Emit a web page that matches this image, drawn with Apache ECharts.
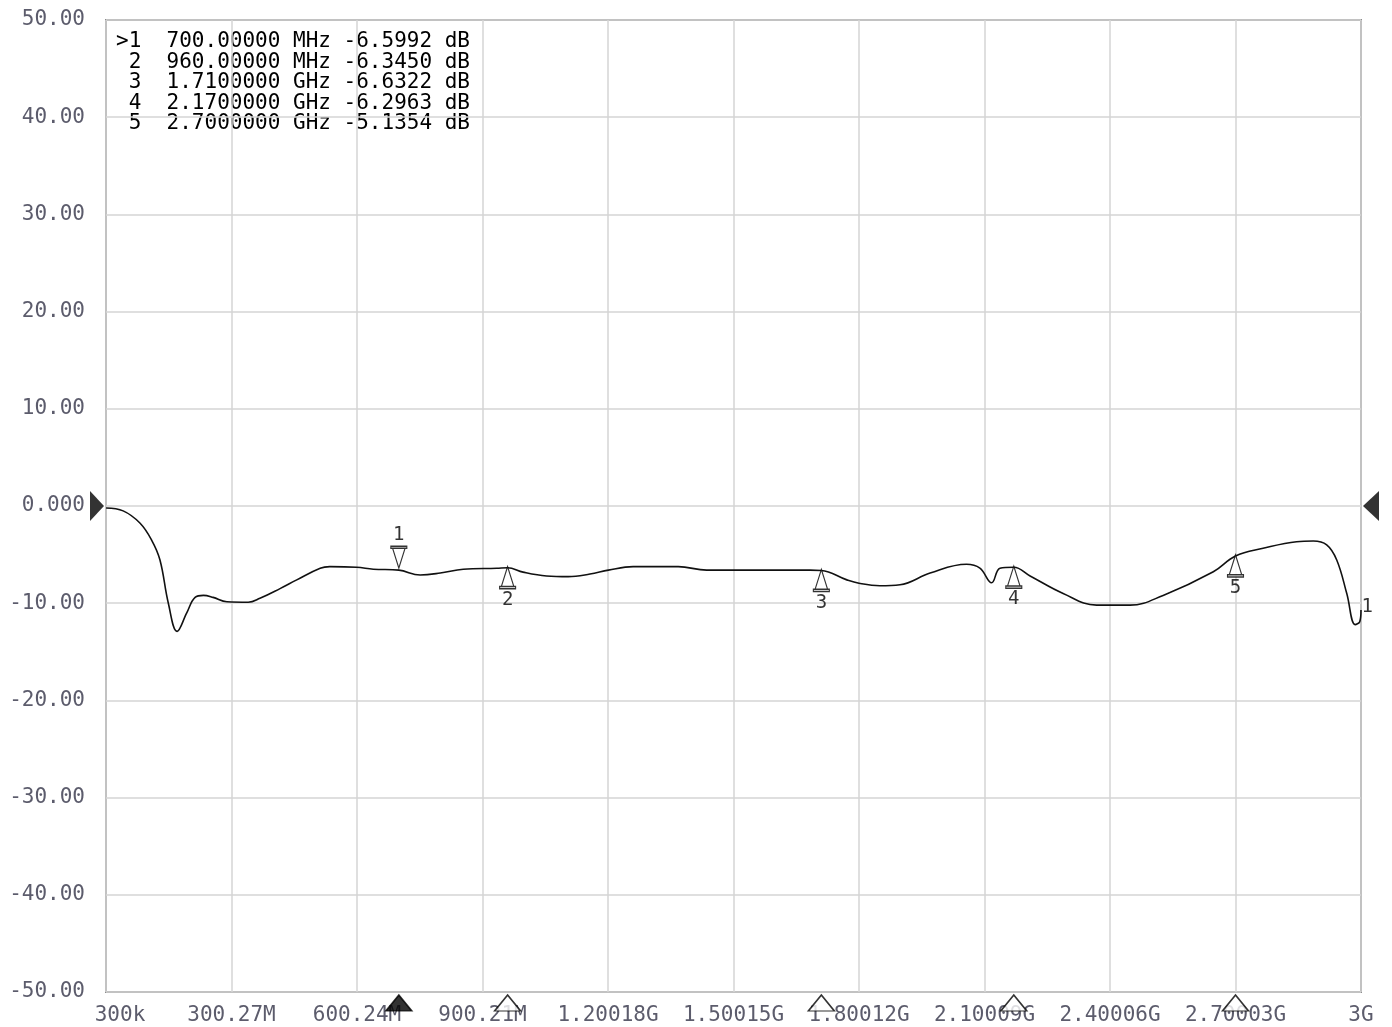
<!DOCTYPE html>
<html>
<head>
<meta charset="utf-8">
<script src="https://cdn.jsdelivr.net/npm/echarts@6/dist/echarts.min.js"></script>
<style>
  html, body { margin: 0; padding: 0; background: #fff; }
  #chart { width: 1392px; height: 1027px; }
</style>
</head>
<body>
<div id="chart"></div>
<script>
// ---- Data (frequency in MHz, level in dB) ----
const traceFreq = [0.3, 41, 81, 109, 129, 149, 170, 193, 213, 233, 256, 289, 340, 368, 416, 456, 512, 535, 599, 639,
  700, 751, 799, 854, 934, 960, 997, 1053, 1105, 1157, 1201, 1260, 1368, 1436, 1532, 1683, 1710, 1771, 1800, 1850,
  1898, 1970, 2057, 2089, 2117, 2137, 2170, 2209, 2288, 2368, 2448, 2527, 2647, 2700, 2766, 2846, 2886, 2918, 2942,
  2966, 2986, 2997, 3000];
const traceLevel = [-0.2, -0.5, -1.75, -3.5, -5.55, -10.0, -12.9, -11.0, -9.4, -9.2, -9.4, -9.85, -9.9, -9.5, -8.5, -7.6, -6.4, -6.24, -6.3, -6.5,
  -6.6, -7.1, -6.9, -6.5, -6.4, -6.35, -6.8, -7.2, -7.27, -7.0, -6.6, -6.24, -6.24, -6.6, -6.6, -6.6, -6.63, -7.6, -7.95, -8.2,
  -8.1, -6.9, -6.0, -6.4, -7.9, -6.4, -6.3, -7.2, -9.0, -10.2, -10.2, -9.2, -6.76, -5.14, -4.35, -3.67, -3.6, -4.0, -5.55,
  -9.0, -12.2, -11.9, -10.7];

const markerFreq = [700, 960, 1710, 2170, 2700];
const markerLevel = [-6.5992, -6.3450, -6.6322, -6.2963, -5.1354];
const markerFreqText = ['700.00000 MHz', '960.00000 MHz', '1.7100000 GHz', '2.1700000 GHz', '2.7000000 GHz'];

const xTickLabels = ['300k', '300.27M', '600.24M', '900.21M', '1.20018G', '1.50015G', '1.80012G', '2.10009G', '2.40006G', '2.70003G', '3G'];
const yMin = -50, yMax = 50, yStep = 10;
const xMin = 0, xMax = 3000, xStep = 300;
const refLevel = 0;

// ---- Chart ----
const FONT = 'DejaVu Sans Mono';
const chart = echarts.init(document.getElementById('chart'), null, { renderer: 'canvas' });

const tableText = markerFreq.map((f, i) =>
  (i === 0 ? '>' : ' ') + (i + 1) + '  ' + markerFreqText[i] + ' ' + markerLevel[i].toFixed(4) + ' dB'
).join('\n');

const upTri = 'path://M0,0 L-7,18 L7,18 Z M-9,18 L9,18 L9,20 L-9,20 Z';
const downTri = 'path://M-9,0 L9,0 L9,2 L-9,2 Z M-7,2 L7,2 L0,20 Z';

const traceData = traceFreq.map((f, i) => [f, traceLevel[i]]);
const markerData = markerFreq.map((f, i) => ({
  value: [f, markerLevel[i]],
  symbol: i === 0 ? downTri : upTri,
  symbolOffset: i === 0 ? [0, -13] : [0, 10],
  label: {
    show: true,
    formatter: String(i + 1),
    position: i === 0 ? 'top' : 'bottom',
    distance: 1
  }
}));
const axisMarkerData = markerFreq.map((f, i) => ({
  value: [f, yMin],
  itemStyle: { color: i === 0 ? '#000' : '#fff', borderColor: '#000', borderWidth: 1.5 }
}));

chart.setOption({
  animation: false,
  backgroundColor: '#fff',
  grid: {
    left: 106, right: 31, top: 20, bottom: 35,
    show: true, borderColor: '#8c8c8c', borderWidth: 2, backgroundColor: 'transparent'
  },
  xAxis: {
    type: 'value', min: xMin, max: xMax, interval: xStep,
    axisLine: { show: false }, axisTick: { show: false },
    splitLine: { show: true, lineStyle: { color: '#d4d4d4', width: 1.5 } },
    axisLabel: {
      fontFamily: FONT, fontSize: 21, color: '#5c5c6c', margin: 13,
      formatter: v => {
        const i = Math.round(v / xStep);
        return i === 0 ? '{first|' + xTickLabels[i] + '}' : xTickLabels[i];
      },
      rich: { first: { fontFamily: FONT, fontSize: 21, color: '#5c5c6c', padding: [0, 0, 0, 28] } }
    }
  },
  yAxis: {
    type: 'value', min: yMin, max: yMax, interval: yStep,
    axisLine: { show: false }, axisTick: { show: false },
    splitLine: { show: true, lineStyle: { color: '#d4d4d4', width: 1.5 } },
    axisLabel: {
      fontFamily: FONT, fontSize: 21, color: '#5c5c6c', margin: 21,
      formatter: v => (v === 0 ? '0.000' : v.toFixed(2))
    }
  },
  graphic: [{
    type: 'text', left: 116, top: 31, silent: true,
    style: { text: tableText, font: '21px "' + FONT + '"', fill: '#000', lineHeight: 20.6 }
  }],
  series: [
    {
      type: 'line', data: traceData, showSymbol: false, smooth: 0.4,
      lineStyle: { color: '#111', width: 1.6 }, silent: true, z: 3
    },
    {
      type: 'scatter', data: markerData, symbolSize: [16, 22], clip: false, silent: true, z: 4,
      itemStyle: { color: '#fff', borderColor: '#000', borderWidth: 1.3 },
      label: { fontFamily: FONT, fontSize: 19, color: '#000' }
    },
    {
      type: 'scatter', data: axisMarkerData, symbol: 'path://M0,0 L13,16 L-13,16 Z',
      symbolSize: [26, 16], symbolOffset: [0, 11], clip: false, silent: true, z: 5
    },
    {
      type: 'scatter', clip: false, silent: true, z: 5,
      data: [
        { value: [xMin, refLevel], symbol: 'path://M0,0 L14,15 L0,30 Z', symbolSize: [14, 30], symbolOffset: [-9, 0] },
        { value: [xMax, refLevel], symbol: 'path://M14,0 L0,15 L14,30 Z', symbolSize: [16, 30], symbolOffset: [10, 0] }
      ],
      itemStyle: { color: '#000' }
    },
    {
      type: 'scatter', clip: false, silent: true, z: 5, symbolSize: 1,
      itemStyle: { color: 'transparent' },
      data: [{ value: traceData[traceData.length - 1], label: { show: true, formatter: '1', position: 'right', distance: 0, offset: [0, -3] } }],
      label: { fontFamily: FONT, fontSize: 19, color: '#000' }
    }
  ]
});
</script>
</body>
</html>
